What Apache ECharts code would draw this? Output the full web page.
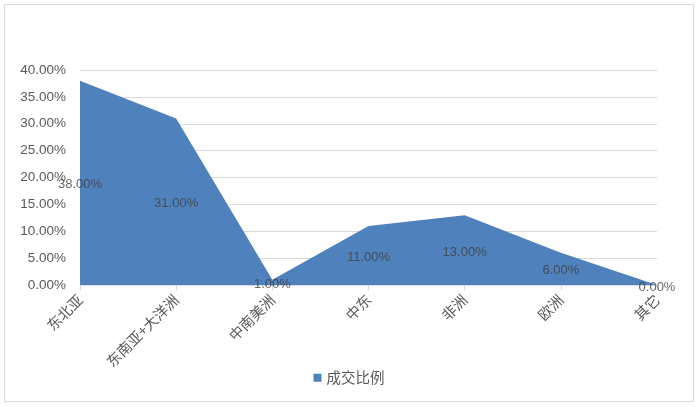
<!DOCTYPE html>
<html>
<head>
<meta charset="utf-8">
<script src="https://cdn.jsdelivr.net/npm/echarts@6/dist/echarts.min.js"></script>
<style>
  html, body { margin: 0; padding: 0; background: #ffffff; }
  #chart { width: 698px; height: 407px; }
</style>
</head>
<body>
<div id="chart"></div>
<script>
// Regions and their share of deals (percent)
const regions = ['东北亚', '东南亚+大洋洲', '中南美洲', '中东', '非洲', '欧洲', '其它'];
const shares = [38, 31, 1, 11, 13, 6, 0];
const seriesName = '成交比例';

const numFont = '"Liberation Sans", "Noto Sans CJK SC", sans-serif';
const cjkFont = '"Noto Sans CJK SC", sans-serif';
const fmtPct = v => v.toFixed(2) + '%';

const chart = echarts.init(document.getElementById('chart'), null, { renderer: 'canvas' });

chart.setOption({
  animation: false,
  backgroundColor: '#ffffff',
  graphic: [{
    type: 'rect',
    shape: { x: 4.5, y: 4.5, width: 689, height: 397 },
    style: { fill: 'none', stroke: '#d9d9d9', lineWidth: 1 },
    silent: true
  }],
  grid: { left: 80, right: 41, top: 70, bottom: 122, containLabel: false },
  legend: {
    data: [{ name: seriesName, icon: 'rect' }],
    bottom: 17,
    left: 'center',
    itemWidth: 8,
    itemHeight: 8,
    itemGap: 5,
    textStyle: { fontFamily: cjkFont, fontSize: 14.5, color: '#595959' }
  },
  xAxis: {
    type: 'category',
    data: regions,
    boundaryGap: false,
    axisLine: { lineStyle: { color: '#d9d9d9' } },
    axisTick: { show: true, length: 5, lineStyle: { color: '#d9d9d9' }, alignWithLabel: true },
    axisLabel: {
      rotate: 45,
      interval: 0,
      margin: 12,
      fontFamily: cjkFont,
      fontSize: 14.5,
      color: '#595959'
    },
    splitLine: { show: false }
  },
  yAxis: {
    type: 'value',
    min: 0,
    max: 40,
    interval: 5,
    axisLine: { show: false },
    axisTick: { show: false },
    axisLabel: {
      formatter: v => fmtPct(v),
      fontFamily: numFont,
      fontSize: 13.5,
      color: '#595959',
      margin: 14
    },
    splitLine: { lineStyle: { color: '#d9d9d9' } }
  },
  series: [
    {
      name: seriesName,
      type: 'line',
      data: shares,
      symbol: 'none',
      lineStyle: { width: 0 },
      itemStyle: { color: '#4f81bd' },
      areaStyle: { color: '#4f81bd', opacity: 1 },
      z: 2
    },
    {
      // data labels, placed halfway up each value
      type: 'scatter',
      data: shares.map(v => ({ value: v / 2, share: v })),
      symbolSize: 0,
      silent: true,
      z: 5,
      label: {
        show: true,
        position: 'inside',
        offset: [0, 2],
        formatter: p => fmtPct(p.data.share),
        fontFamily: numFont,
        fontSize: 13,
        color: '#404040'
      }
    }
  ]
});
</script>
</body>
</html>
